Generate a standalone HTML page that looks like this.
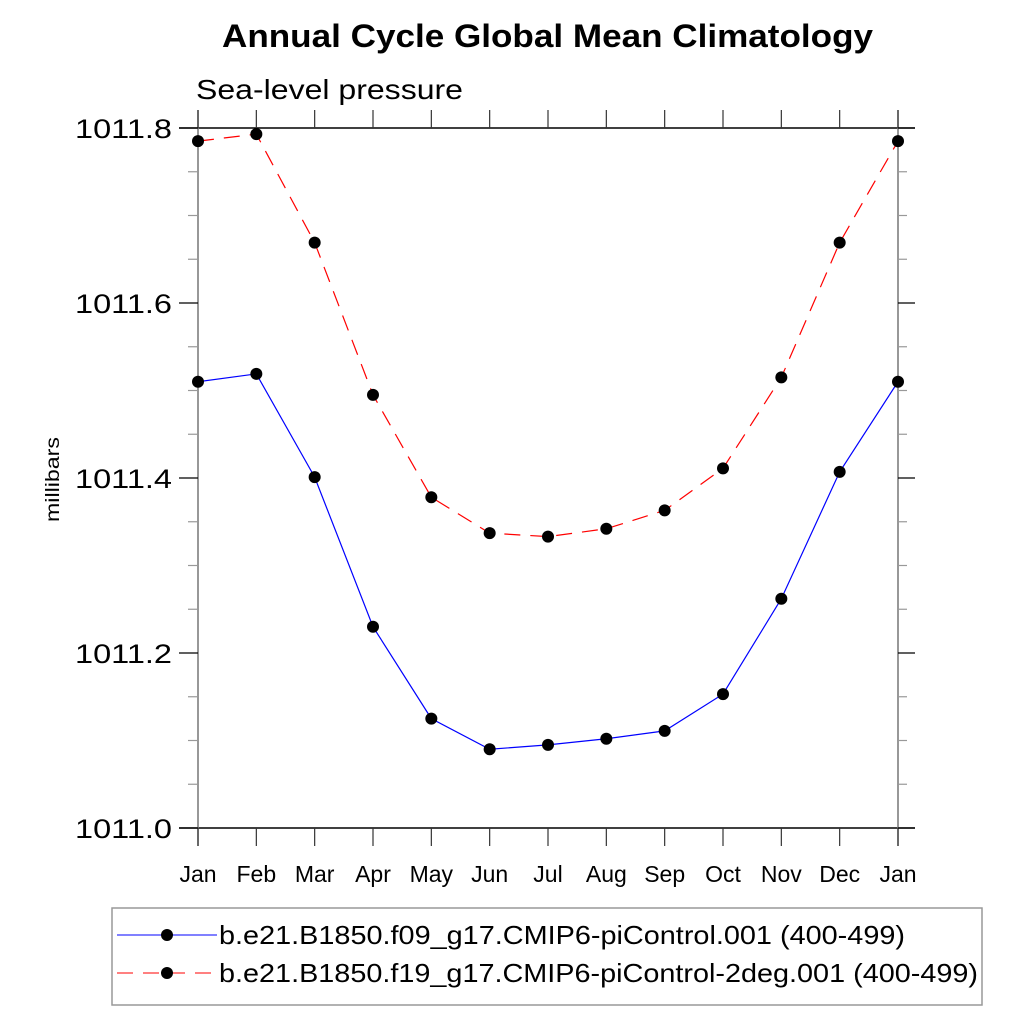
<!DOCTYPE html>
<html><head><meta charset="utf-8"><style>
body{margin:0;background:#fff}
svg{display:block;font-family:"Liberation Sans",sans-serif}
</style></head><body>
<svg id="chart" width="1024" height="1024">
<text x="222" y="47" font-size="32" font-weight="bold" textLength="651" lengthAdjust="spacingAndGlyphs">Annual Cycle Global Mean Climatology</text>
<text x="196" y="99" font-size="28" textLength="267" lengthAdjust="spacingAndGlyphs">Sea-level pressure</text>
<text transform="translate(59,522) rotate(-90)" font-size="19" textLength="85" lengthAdjust="spacingAndGlyphs">millibars</text>
<g id="axes"></g>
<g id="series"></g>
<rect x="112" y="908" width="870" height="97" fill="none" stroke="#999" stroke-width="1.5"/>
<g>
<line x1="117" y1="935" x2="217" y2="935" stroke="#0000ff" stroke-width="1"/>
<circle cx="167" cy="935" r="6" fill="#000"/>
<text x="219" y="944" font-size="26" textLength="686" lengthAdjust="spacingAndGlyphs">b.e21.B1850.f09_g17.CMIP6-piControl.001 (400-499)</text>
</g>
<g>
<line x1="117" y1="973" x2="217" y2="973" stroke="#ff0000" stroke-width="1" stroke-dasharray="16,10"/>
<circle cx="167" cy="973" r="6" fill="#000"/>
<text x="219" y="982" font-size="26" textLength="759" lengthAdjust="spacingAndGlyphs">b.e21.B1850.f19_g17.CMIP6-piControl-2deg.001 (400-499)</text>
</g>
</svg>
<script>
const months = ["Jan","Feb","Mar","Apr","May","Jun","Jul","Aug","Sep","Oct","Nov","Dec","Jan"];
const seriesF09 = [1011.510,1011.519,1011.401,1011.230,1011.125,1011.090,1011.095,1011.102,1011.111,1011.153,1011.262,1011.407,1011.510];
const seriesF19 = [1011.785,1011.793,1011.669,1011.495,1011.378,1011.337,1011.333,1011.342,1011.363,1011.411,1011.515,1011.669,1011.785];
const yTicks = ["1011.0","1011.2","1011.4","1011.6","1011.8"];
const yMin = 1011.0, yMax = 1011.8;

const NS = "http://www.w3.org/2000/svg";
const X0 = 198, X1 = 898, Y0 = 828, Y1 = 128;
const xs = i => X0 + (X1 - X0) * i / (months.length - 1);
const ys = v => Y0 - (v - yMin) / (yMax - yMin) * (Y0 - Y1);
function mk(tag, attrs, parent){const e=document.createElementNS(NS,tag);for(const k in attrs)e.setAttribute(k,attrs[k]);parent.appendChild(e);return e;}
const axes = document.getElementById('axes');
let l;
l = mk('line',{x1:179,y1:Y1,x2:915,y2:Y1,stroke:'#000','stroke-width':1.5},axes);


l = mk('line',{x1:179,y1:Y0,x2:915,y2:Y0,stroke:'#000','stroke-width':1.5},axes);


l = mk('line',{x1:X0,y1:110,x2:X0,y2:846,stroke:'#777','stroke-width':1.5},axes);


l = mk('line',{x1:X1,y1:110,x2:X1,y2:846,stroke:'#777','stroke-width':1.5},axes);


months.forEach((m,i)=>{
  const x = xs(i);
  mk('line',{x1:x,y1:Y0,x2:x,y2:846,stroke:'#333','stroke-width':1.2},axes);
  mk('line',{x1:x,y1:Y1,x2:x,y2:110,stroke:'#333','stroke-width':1.2},axes);
  const t = mk('text',{x:x,y:882,'font-size':23,'text-anchor':'middle'},axes);
  t.textContent = m;
  
  
});
for(let v=yMin; v<=yMax+1e-9; v+=0.05){
  const y = ys(v);
  const major = Math.abs(Math.round(v*5)/5 - v) < 1e-6;
  mk('line',{x1:major?179:188,y1:y,x2:X0,y2:y,stroke:major?'#000':'#999','stroke-width':1.2},axes);
  mk('line',{x1:X1,y1:y,x2:major?915:907,y2:y,stroke:major?'#000':'#999','stroke-width':1.2},axes);
}
yTicks.forEach(s=>{
  const t = mk('text',{x:75,y:ys(parseFloat(s))+10,'font-size':27,textLength:97,lengthAdjust:'spacingAndGlyphs'},axes);
  t.textContent = s;
  
  
});
const sg = document.getElementById('series');
function drawSeries(vals,color,dash,name){
  const pts = vals.map((v,i)=>xs(i)+','+ys(v)).join(' ');
  const p = mk('polyline',{points:pts,fill:'none',stroke:color,'stroke-width':1.2},sg);
  if(dash) p.setAttribute('stroke-dasharray',dash);
  
  
  vals.forEach((v,i)=>{
    const c = mk('circle',{cx:xs(i),cy:ys(v),r:6,fill:'#000'},sg);
    
    
  });
}
drawSeries(seriesF09,'#0000ff',null,'f09-series');
drawSeries(seriesF19,'#ff0000','16,10','f19-series');
</script>
</body></html>
